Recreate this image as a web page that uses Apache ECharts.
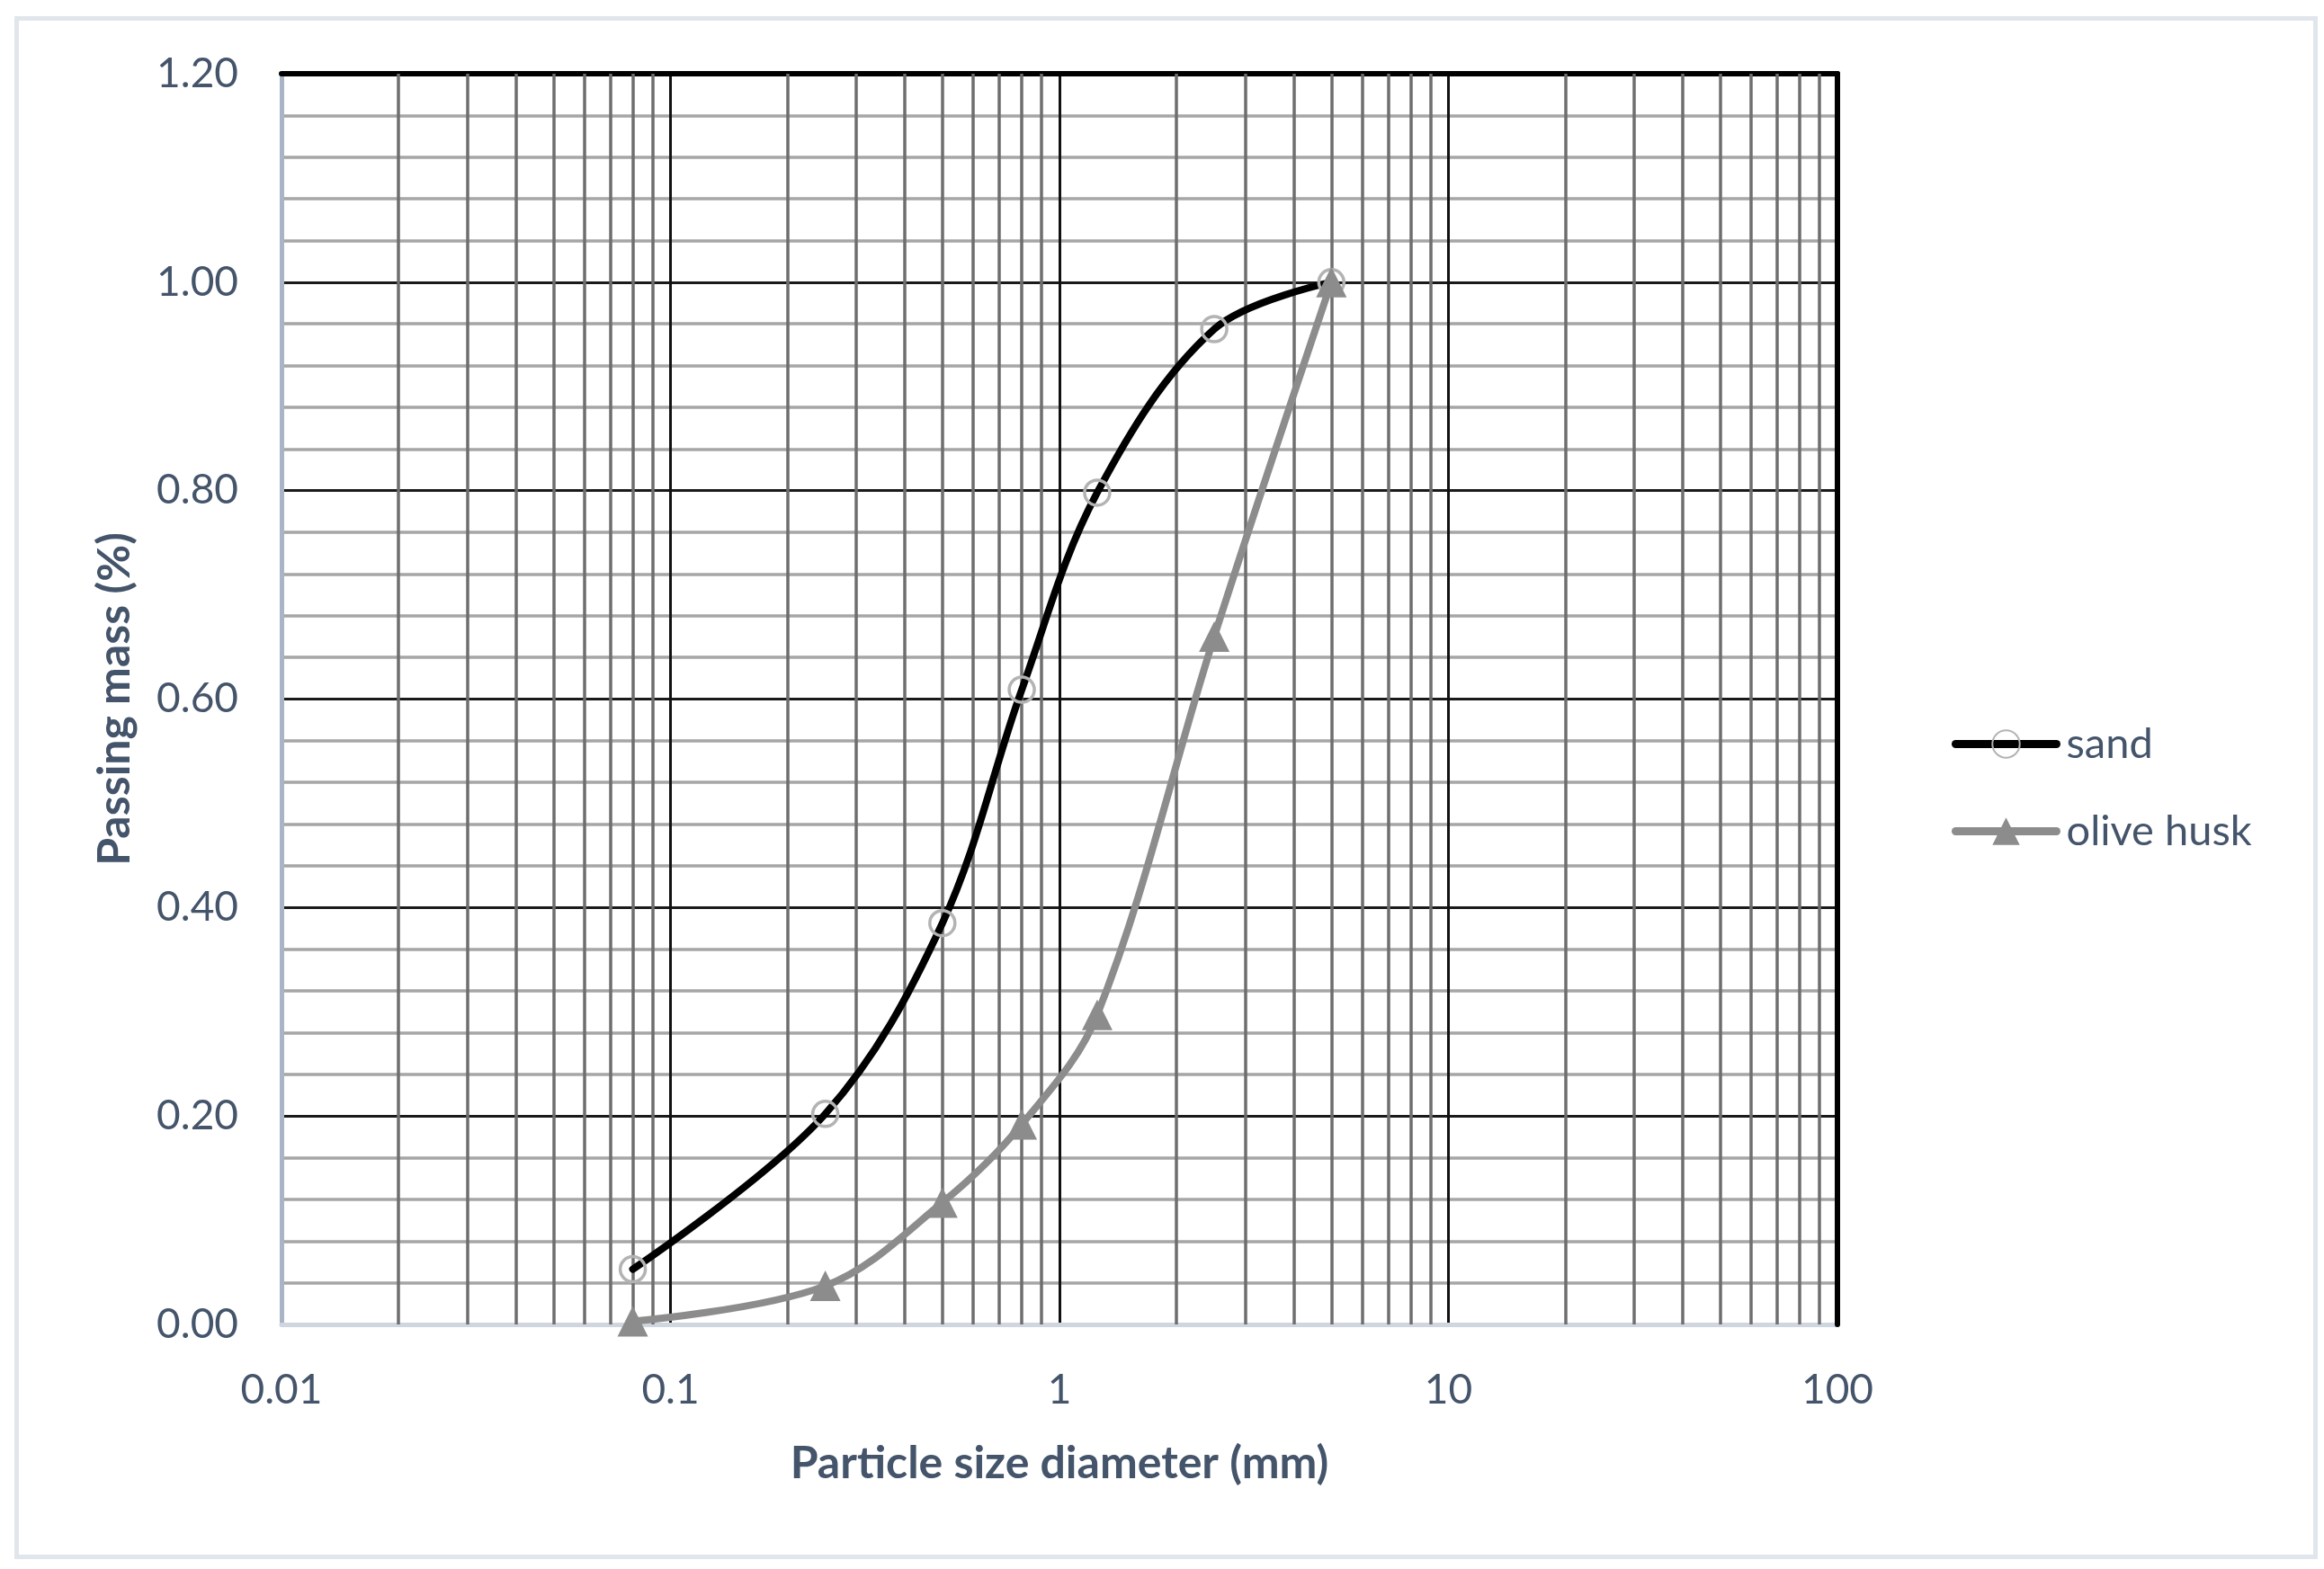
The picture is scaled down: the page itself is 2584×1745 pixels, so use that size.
<!DOCTYPE html>
<html>
<head>
<meta charset="utf-8">
<script src="https://cdn.jsdelivr.net/npm/echarts@6/dist/echarts.min.js"></script>
<style>
html,body{margin:0;padding:0;background:#fff;}
#chart{width:2584px;height:1745px;}
</style>
</head>
<body>
<div id="chart"></div>
<script>
// Data
const sieveSizes = [0.08, 0.25, 0.5, 0.8, 1.25, 2.5, 5];
const sandPassing = [0.053, 0.202, 0.385, 0.609, 0.798, 0.955, 1.0];
const olivePassing = [0.003, 0.037, 0.117, 0.192, 0.297, 0.66, 1.0];
const seriesNames = ['sand', 'olive husk'];
const xTickLabels = ['0.01', '0.1', '1', '10', '100'];
const minorMultipliers = [2, 3, 4, 5, 6, 7, 8, 9];
const decades = [0.01, 0.1, 1, 10];

const textColor = '#44546A';
const fontFam = 'Lato, "Open Sans", sans-serif';
const sandColor = '#000000';
const oliveColor = '#8c8c8c';

const minorX = [];
decades.forEach(d => minorMultipliers.forEach(m => minorX.push(+(d * m).toPrecision(3))));

const pairs = (xs, ys) => xs.map((x, i) => [x, ys[i]]);

const chart = echarts.init(document.getElementById('chart'), null, {renderer: 'canvas'});
chart.setOption({
  backgroundColor: '#ffffff',
  animation: false,
  graphic: [{
    type: 'rect',
    left: 16, top: 18,
    shape: {width: 2556, height: 1711},
    style: {fill: 'none', stroke: '#e1e5ec', lineWidth: 5},
    silent: true
  }],
  grid: {left: 313, right: 541, top: 82, bottom: 272, containLabel: false},
  legend: {
    orient: 'vertical',
    left: 2165, top: 799,
    itemWidth: 112, itemHeight: 38, itemGap: 50,
    data: [
      {name: seriesNames[0], lineStyle: {width: 9, cap: 'round', color: sandColor}},
      {name: seriesNames[1], lineStyle: {width: 9, cap: 'round', color: oliveColor}}
    ],
    textStyle: {color: textColor, fontSize: 47, fontFamily: fontFam, padding: [0, 0, 0, 6]},
    selectedMode: false
  },
  xAxis: [{
    type: 'log', logBase: 10, min: 0.01, max: 100,
    name: 'Particle size diameter (mm)',
    nameLocation: 'middle', nameGap: 130,
    nameTextStyle: {color: textColor, fontSize: 50, fontWeight: 'bold', fontFamily: fontFam},
    axisLine: {show: true, onZero: false, lineStyle: {color: '#cfd6e0', width: 5}},
    axisTick: {show: false},
    axisLabel: {
      color: textColor, fontSize: 46, fontFamily: fontFam, margin: 50,
      formatter: v => xTickLabels.find(t => Math.abs(parseFloat(t) - v) / v < 1e-6) || ''
    },
    splitLine: {show: true, lineStyle: {color: '#111111', width: 3}},
    z: 3
  }, {
    type: 'log', logBase: 10, min: 0.01, max: 100, position: 'top',
    axisLine: {show: true, onZero: false, lineStyle: {color: '#000000', width: 6}},
    axisTick: {show: false}, axisLabel: {show: false}, splitLine: {show: false},
    z: 4
  }],
  yAxis: [{
    type: 'value', min: 0, max: 1.2, interval: 0.2,
    name: 'Passing mass (%)',
    nameLocation: 'middle', nameGap: 160,
    nameTextStyle: {color: textColor, fontSize: 50, fontWeight: 'bold', fontFamily: fontFam},
    axisLine: {show: true, onZero: false, lineStyle: {color: '#a9b4c6', width: 5}},
    axisTick: {show: false},
    axisLabel: {color: textColor, fontSize: 46, fontFamily: fontFam, margin: 48, formatter: v => v.toFixed(2)},
    splitLine: {show: true, lineStyle: {color: '#1a1a1a', width: 3}},
    minorTick: {show: false, splitNumber: 5},
    minorSplitLine: {show: true, lineStyle: {color: '#a6a6a6', width: 3.5}},
    z: 3
  }, {
    type: 'value', min: 0, max: 1.2, interval: 0.2, position: 'right',
    axisLine: {show: true, onZero: false, lineStyle: {color: '#000000', width: 6}},
    axisTick: {show: false}, axisLabel: {show: false}, splitLine: {show: false},
    z: 4
  }],
  series: [{
    type: 'line', name: 'minor', data: [], z: 1, silent: true,
    markLine: {
      silent: true, symbol: 'none', animation: false,
      label: {show: false},
      lineStyle: {color: '#6e6e6e', width: 3.5, type: 'solid'},
      emphasis: {disabled: true},
      data: minorX.map(v => ({xAxis: v}))
    }
  }, {
    type: 'line', name: seriesNames[0],
    data: pairs(sieveSizes, sandPassing),
    smooth: 0.35,
    symbol: 'circle', symbolSize: 28,
    lineStyle: {color: sandColor, width: 8, cap: 'round'},
    itemStyle: {color: 'rgba(0,0,0,0)', borderColor: '#b3b3b3', borderWidth: 3.5},
    z: 5
  }, {
    type: 'line', name: seriesNames[1],
    data: pairs(sieveSizes, olivePassing),
    smooth: 0.35,
    symbol: 'triangle', symbolSize: 34,
    lineStyle: {color: oliveColor, width: 8, cap: 'round'},
    itemStyle: {color: oliveColor, borderWidth: 0},
    z: 6
  }]
});
</script>
</body>
</html>
